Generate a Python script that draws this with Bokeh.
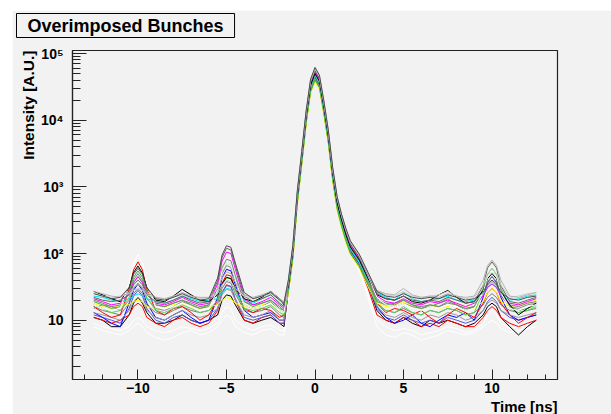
import math
from bokeh.plotting import figure
from bokeh.models import Range1d, FixedTicker, CustomJSTickFormatter, Title
from bokeh.embed import file_html
from bokeh.resources import INLINE

# ---------------- data ----------------
t_ns = [-12.5, -12, -11.5, -11, -10.5, -10.25, -10, -9.75, -9.5, -9, -8.5, -8, -7.5, -7, -6.5, -6,
        -5.5, -5.25, -5, -4.75, -4.5, -4, -3.5, -3, -2.5, -2,
        -1.75, -1.5, -1.25, -1, -0.75, -0.5, -0.25, 0, 0.25, 0.5, 0.75, 1, 1.25, 1.5, 1.75, 2,
        2.5, 3, 3.5, 4, 4.5, 5, 5.5, 6, 6.5, 7, 7.5, 8, 8.5, 9, 9.5, 9.75, 10, 10.25, 10.5, 11, 11.5, 12, 12.5]

bunch_01 = [27, 24, 21, 19, 31, 52, 65, 51, 31, 20, 19, 23, 29, 24, 20, 19, 24, 35, 44, 42, 30, 21, 19, 22, 27, 21,
            17, 33, 108, 710, 2750, 11200, 33300, 50000, 38300, 15800, 5800, 1580, 580, 320, 190, 125,
            80, 42, 24, 21, 20, 23, 19, 18, 20, 24, 28, 22, 18, 19, 28, 42, 50, 42, 27, 17, 12, 15, 18]
bunch_02 = [16, 13, 11, 12, 29, 57, 75, 57, 29, 14, 12, 15, 16, 13, 10, 12, 20, 36, 48, 46, 29, 15, 13, 15, 14, 11,
            12, 37, 120, 780, 3000, 12400, 36800, 55000, 42300, 17500, 6400, 1750, 640, 350, 210, 138,
            87, 40, 18, 13, 15, 14, 12, 14, 11, 9, 12, 15, 13, 11, 18, 26, 30, 26, 18, 12, 9, 11, 13]
bunch_03 = [19, 17, 15, 16, 27, 44, 55, 44, 27, 17, 16, 18, 20, 17, 15, 17, 28, 54, 72, 68, 42, 19, 16, 18, 20, 15,
            14, 27, 87, 570, 2200, 9000, 26700, 40000, 30700, 12700, 4700, 1270, 470, 255, 153, 100,
            64, 34, 19, 17, 18, 20, 17, 15, 16, 18, 21, 17, 14, 16, 30, 49, 60, 49, 30, 16, 14, 15, 17]
bunch_04 = [13, 11, 9, 8, 18, 28, 35, 28, 18, 11, 10, 12, 14, 11, 9, 10, 22, 43, 58, 55, 34, 14, 11, 12, 13, 10,
            10, 30, 98, 640, 2500, 10100, 30000, 45000, 34500, 14300, 5250, 1430, 525, 285, 172, 112,
            72, 36, 16, 11, 9, 10, 12, 9, 8, 10, 12, 11, 13, 10, 22, 37, 45, 37, 22, 12, 10, 11, 12]
bunch_05 = [18, 16, 15, 17, 17, 19, 20, 19, 16, 15, 16, 17, 18, 16, 15, 16, 17, 20, 22, 21, 18, 16, 15, 17, 18, 14,
            13, 25, 82, 540, 2100, 8500, 25300, 38000, 29100, 12000, 4450, 1200, 445, 240, 145, 95,
            60, 32, 18, 16, 17, 19, 16, 15, 17, 15, 16, 18, 16, 15, 19, 26, 30, 26, 19, 16, 17, 18, 20]
bunch_06 = [21, 19, 17, 18, 25, 37, 45, 37, 25, 18, 17, 19, 22, 19, 17, 18, 35, 77, 105, 100, 58, 21, 17, 19, 22, 17,
            15, 35, 113, 740, 2870, 11700, 34800, 52000, 40000, 16500, 6100, 1650, 610, 330, 200, 130,
            83, 44, 23, 19, 18, 21, 18, 17, 19, 18, 20, 18, 16, 18, 23, 31, 35, 31, 23, 18, 17, 19, 21]
bunch_07 = [23, 22, 20, 19, 21, 23, 25, 23, 21, 19, 18, 20, 23, 21, 19, 20, 21, 26, 30, 29, 24, 20, 18, 21, 24, 18,
            16, 32, 104, 680, 2640, 10800, 32000, 48000, 36800, 15200, 5600, 1520, 560, 305, 185, 120,
            76, 40, 26, 22, 20, 26, 21, 19, 20, 21, 23, 20, 19, 20, 24, 31, 35, 31, 24, 20, 21, 23, 24]
bunch_08 = [17, 15, 14, 15, 36, 72, 96, 72, 36, 16, 15, 16, 18, 16, 14, 15, 28, 55, 72, 68, 40, 17, 15, 16, 18, 14,
            13, 39, 126, 825, 3200, 13100, 38800, 58000, 44600, 18400, 6800, 1840, 680, 370, 223, 145,
            92, 46, 22, 17, 16, 18, 15, 14, 16, 15, 17, 16, 14, 15, 26, 45, 55, 45, 26, 15, 14, 16, 17]
bunch_09 = [25, 23, 21, 22, 31, 49, 60, 49, 31, 21, 20, 22, 25, 22, 20, 21, 43, 95, 131, 124, 72, 26, 21, 23, 26, 20,
            18, 41, 134, 875, 3400, 13900, 41200, 62000, 47400, 19600, 7200, 1960, 720, 390, 237, 155,
            98, 52, 27, 23, 22, 25, 22, 21, 22, 21, 24, 22, 20, 21, 26, 35, 40, 35, 26, 21, 20, 22, 23]
bunch_10 = [22, 20, 19, 20, 24, 34, 40, 34, 24, 19, 18, 20, 23, 20, 18, 19, 39, 87, 120, 113, 66, 23, 19, 21, 24, 18,
            16, 37, 121, 790, 3070, 12600, 37200, 56000, 42800, 17700, 6500, 1770, 650, 355, 214, 140,
            88, 47, 25, 21, 20, 23, 20, 19, 20, 19, 22, 20, 18, 19, 33, 61, 75, 61, 33, 19, 18, 20, 22]
bunch_11 = [16, 14, 13, 12, 18, 25, 30, 25, 17, 13, 12, 14, 16, 14, 13, 14, 18, 30, 38, 36, 25, 14, 13, 14, 16, 12,
            11, 31, 101, 665, 2580, 10500, 31200, 47000, 35900, 14800, 5450, 1480, 545, 297, 180, 117,
            74, 38, 18, 14, 13, 15, 13, 12, 14, 13, 15, 14, 12, 13, 17, 22, 25, 22, 17, 14, 13, 14, 15]
bunch_12 = [13, 12, 11, 10, 14, 19, 22, 19, 14, 11, 10, 12, 14, 12, 11, 12, 15, 24, 29, 28, 20, 12, 11, 12, 14, 10,
            10, 28, 91, 595, 2310, 9450, 28000, 42000, 32200, 13300, 4900, 1330, 490, 266, 161, 105,
            67, 34, 16, 12, 11, 13, 11, 10, 12, 11, 13, 12, 10, 11, 14, 18, 20, 18, 14, 12, 11, 12, 13]
bunch_13 = [27, 25, 23, 22, 26, 31, 35, 31, 26, 22, 21, 23, 26, 23, 22, 22, 29, 43, 53, 50, 37, 24, 22, 24, 27, 21,
            19, 40, 130, 850, 3300, 13500, 40000, 60000, 46000, 19000, 7000, 1900, 700, 380, 230, 150,
            95, 50, 28, 25, 24, 30, 24, 22, 23, 22, 25, 23, 22, 23, 40, 66, 80, 66, 40, 23, 22, 24, 26]
bunch_14 = [12, 11, 10, 9, 15, 23, 28, 23, 15, 10, 9, 11, 12, 10, 9, 10, 15, 26, 33, 32, 21, 11, 10, 11, 12, 9,
            9, 29, 95, 620, 2400, 9850, 29200, 44000, 33600, 13900, 5100, 1390, 510, 277, 168, 110,
            70, 35, 15, 11, 10, 12, 10, 9, 10, 9, 11, 10, 9, 10, 14, 19, 22, 19, 14, 11, 10, 11, 12]
bunch_15 = [17, 15, 13, 14, 22, 36, 45, 36, 22, 14, 13, 15, 17, 15, 13, 14, 20, 34, 43, 42, 28, 15, 14, 15, 17, 13,
            12, 31, 100, 655, 2540, 10400, 30800, 46000, 35400, 14600, 5400, 1460, 540, 293, 177, 115,
            73, 37, 17, 14, 13, 16, 13, 12, 14, 13, 15, 14, 12, 13, 27, 45, 55, 45, 27, 15, 13, 14, 16]
bunch_16 = [11, 10, 8, 8, 12, 18, 22, 18, 13, 9, 9, 10, 12, 10, 9, 10, 12, 20, 24, 23, 17, 10, 9, 10, 11, 9,
            8, 29, 94, 610, 2380, 9700, 28800, 43000, 33100, 13700, 5040, 1370, 505, 274, 165, 108,
            68, 34, 14, 10, 9, 11, 9, 8, 10, 9, 10, 9, 8, 9, 12, 16, 18, 16, 11, 8, 6, 8, 10]
bunch_17 = [8, 7, 6.5, 6, 7, 8, 9, 8, 6.5, 5.5, 5, 5.5, 6.5, 7, 6, 6.5, 8, 10, 12, 11, 8, 6.5, 6, 7, 7.5, 6,
            6, 20, 85, 550, 2150, 8800, 26000, 39000, 29900, 12400, 4550, 1240, 455, 247, 150, 98,
            55, 22, 8, 6, 5.5, 6.5, 6, 5, 5.5, 6, 7, 6.5, 6, 6.5, 8, 9, 10, 9, 7.5, 6.5, 7, 7.5, 8]
bunch_18 = [26, 23, 22, 23, 25, 28, 30, 28, 24, 22, 21, 22, 24, 22, 21, 22, 25, 34, 40, 38, 30, 23, 21, 23, 25, 20,
            18, 39, 127, 833, 3230, 13200, 39200, 58800, 45100, 18600, 6860, 1860, 686, 372, 225, 147,
            93, 49, 27, 24, 23, 27, 23, 22, 23, 24, 27, 23, 21, 22, 34, 50, 60, 50, 34, 22, 23, 25, 26]
bunch_19 = [11, 10, 9, 10, 12, 16, 18, 16, 11, 9, 8, 10, 11, 9, 8, 9, 14, 26, 34, 32, 20, 10, 9, 11, 12, 9,
            9, 27, 88, 580, 2250, 9200, 27200, 41000, 31300, 12900, 4760, 1290, 476, 258, 156, 102,
            65, 30, 12, 10, 9, 11, 10, 8, 9, 8, 10, 9, 8, 8, 11, 14, 16, 14, 11, 9, 8, 9, 10]
bunch_20 = [20, 18, 16, 17, 25, 40, 50, 40, 25, 17, 16, 18, 20, 18, 16, 17, 30, 61, 82, 78, 47, 19, 17, 18, 20, 16,
            14, 35, 114, 750, 2900, 11900, 35200, 53000, 40500, 16700, 6160, 1670, 616, 334, 202, 132,
            84, 44, 21, 18, 17, 20, 17, 16, 17, 16, 19, 17, 15, 16, 25, 38, 45, 38, 25, 17, 16, 18, 19]
bunch_21 = [9, 8, 7.5, 7, 8, 10, 11, 10, 8, 7, 6.5, 7, 8, 7.5, 7, 7.5, 9, 13, 16, 15, 10, 8, 7, 8, 8.5, 7,
            7, 24, 86, 560, 2180, 8900, 26300, 39500, 30300, 12500, 4600, 1250, 460, 250, 152, 99,
            58, 25, 10, 8, 7, 7.5, 7, 6, 6.5, 7, 8, 7.5, 6.5, 7, 9, 12, 14, 12, 9, 7.5, 8, 8.5, 9]
bunch_22 = [15, 17, 16, 14, 20, 30, 36, 30, 21, 15, 14, 16, 19, 17, 15, 16, 26, 50, 66, 62, 38, 17, 15, 16, 19, 14,
            13, 33, 107, 705, 2730, 11100, 33000, 49500, 37900, 15600, 5750, 1570, 575, 315, 188, 123,
            78, 40, 20, 17, 16, 18, 16, 15, 17, 16, 18, 17, 15, 16, 23, 33, 38, 33, 23, 16, 15, 17, 18]

# drawing order and colours (ROOT-like colour indices)
bunches = [bunch_17, bunch_21, bunch_16, bunch_19, bunch_14, bunch_04, bunch_12, bunch_11, bunch_02, bunch_05,
           bunch_03, bunch_22, bunch_15, bunch_20, bunch_07, bunch_06, bunch_01, bunch_08, bunch_10, bunch_18,
           bunch_13, bunch_09]
bunch_colors = ["#ffffff", "#ffffff", "#000000", "#ff0000", "#5954d9", "#0000ff", "#999999", "#7f7f7f",
                "#ff0000", "#ffff00", "#3cb43c", "#8c8c8c", "#59d454", "#7f7f7f", "#00e5e5", "#ff00ff",
                "#000000", "#ffffff", "#666666", "#cccccc", "#b2b2b2", "#4c4c4c"]

x_major_ticks = [-10, -5, 0, 5, 10]
y_major_ticks = [10, 100, 1000, 10000, 100000]

# ---------------- layout ----------------
X0, X1 = -13.7, 13.7
Y0, Y1 = 1.29, 1.11e5
W, H = 599, 404
BG = "#f2f2f2"
FONT = "Liberation Sans"
INK = "#222222"

p = figure(width=W, height=H, x_range=Range1d(X0, X1), y_range=Range1d(Y0, Y1),
           y_axis_type="log", output_backend="svg", toolbar_location=None,
           min_border_left=60, min_border_right=54, min_border_top=40, min_border_bottom=35,
           margin=(10, 0, 0, 12))
p.background_fill_color = BG
p.border_fill_color = BG
p.outline_line_color = INK
p.outline_line_width = 1.2
p.grid.visible = False

for arr, col in zip(bunches, bunch_colors):
    p.line(t_ns, arr, line_color=col, line_width=1)

# axes
p.xaxis.ticker = FixedTicker(ticks=x_major_ticks, minor_ticks=list(range(-13, 14)))
p.yaxis.ticker = FixedTicker(ticks=y_major_ticks,
                             minor_ticks=[m * 10 ** k for k in range(0, 5) for m in range(2, 10)])
p.yaxis.formatter = CustomJSTickFormatter(code=r"""
const e = Math.round(Math.log10(tick));
const sup = ["\u2070", "\u00b9", "\u00b2", "\u00b3", "\u2074", "\u2075"];
return e == 1 ? "10" : "10" + sup[e];
""")
for ax in (p.xaxis[0], p.yaxis[0]):
    ax.axis_line_color = INK
    ax.axis_line_width = 1.2
    ax.major_tick_line_color = INK
    ax.minor_tick_line_color = INK
    ax.major_tick_out = 0
    ax.minor_tick_out = 0
    ax.major_label_text_font = FONT
    ax.major_label_text_font_style = "bold"
    ax.major_label_text_font_size = "14px"
    ax.major_label_text_color = "black"
p.xaxis.major_tick_in = 10
p.xaxis.minor_tick_in = 5
p.xaxis.major_label_standoff = 3
p.yaxis.major_tick_in = 14
p.yaxis.minor_tick_in = 8
p.yaxis.major_label_standoff = 9

# titles: a spacer (drawn in the background colour) next to the frame, then the boxed title
p.add_layout(Title(text=" ", text_font_size="2px", text_color=BG, standoff=7), "above")
p.add_layout(Title(text="Overimposed Bunches", align="left", offset=-56, standoff=0,
                   vertical_align="top",
                   text_font=FONT, text_font_style="bold", text_font_size="18px", text_color="black",
                   background_fill_color=BG, border_line_color="black", border_line_width=1,
                   padding=(11, 11, 2, 2)), "above")
p.add_layout(Title(text="Intensity [A.U.]", align="right", standoff=3, offset=0,
                   text_font=FONT, text_font_style="bold", text_font_size="15.5px",
                   text_color="black"), "left")
p.add_layout(Title(text="Time [ns]", align="right", standoff=0, offset=0,
                   text_font=FONT, text_font_style="bold", text_font_size="15px",
                   text_color="black"), "below")

with open("out.html", "w", encoding="utf-8") as f:
    f.write(file_html(p, INLINE))
